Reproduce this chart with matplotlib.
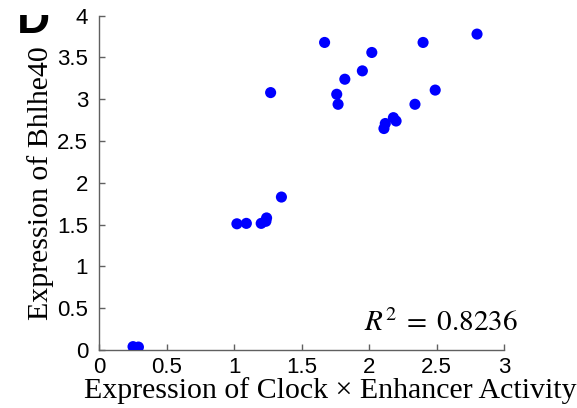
import matplotlib
matplotlib.use("Agg")
import matplotlib.pyplot as plt
from matplotlib.transforms import Bbox

clock_enh = [0.25, 0.29, 0.27, 0.26,
             1.02, 1.09, 1.20, 1.24, 1.235, 1.35,
             1.27, 1.67, 1.76, 1.77, 1.82, 1.95, 2.02,
             2.11, 2.12, 2.18, 2.20, 2.34, 2.40, 2.49, 2.80]
bhlhe40 = [0.04, 0.035, 0.0, 0.02,
           1.51, 1.515, 1.515, 1.58, 1.54, 1.83,
           3.08, 3.68, 3.06, 2.94, 3.24, 3.34, 3.56,
           2.65, 2.71, 2.78, 2.74, 2.94, 3.68, 3.11, 3.78]
xticks = [0, 0.5, 1, 1.5, 2, 2.5, 3]
yticks = [0, 0.5, 1, 1.5, 2, 2.5, 3, 3.5, 4]

plt.rcParams['mathtext.fontset'] = 'stix'

fig = plt.figure(figsize=(5.77, 4.08), dpi=100)
ax = fig.add_axes([0.1721, 0.1422, 0.7014, 0.8193])

ax.scatter(clock_enh, bhlhe40, s=64, color='#0000ff', edgecolors='none', zorder=3)

ax.set_xlim(0, 3)
ax.set_ylim(0, 4)
ax.set_xticks(xticks)
ax.set_xticklabels(['%g' % t for t in xticks])
ax.set_yticks(yticks)
ax.set_yticklabels(['%g' % t for t in yticks])

for s in ['top', 'right']:
    ax.spines[s].set_visible(False)
for s in ['left', 'bottom']:
    ax.spines[s].set_color('#606060')
    ax.spines[s].set_linewidth(1.0)

ax.tick_params(direction='in', length=4, width=1, color='#606060')
ax.tick_params(axis='x', pad=5)
ax.tick_params(axis='y', pad=8)
for lab in ax.get_xticklabels() + ax.get_yticklabels():
    lab.set_family('Liberation Sans')
    lab.set_fontsize(16)

ax.set_xlabel('Expression of Clock \u00d7 Enhancer Activity',
              family='Liberation Serif', fontsize=21.5, labelpad=0)
ax.xaxis.set_label_coords(0.57, -0.08, transform=ax.transAxes)
ax.xaxis.label.set_va('top')
ax.set_ylabel('Expression of Bhlhe40', family='Liberation Serif',
              fontsize=21.5, labelpad=2)

ax.text(3.10, 0.32, r"$R^2\;=\;0.8236$", fontsize=21, ha='right', va='center')

# panel letter, cut off at the top like in the source figure
letter = fig.text(17 / 577, 1 - 33 / 408, 'D', fontsize=33, fontweight='bold',
                  family='Liberation Sans', ha='left', va='baseline')
letter.set_clip_box(Bbox.from_extents(0, 0, 577, 408 - 15))
letter.set_clip_on(True)

fig.savefig('out.png', dpi=100)
